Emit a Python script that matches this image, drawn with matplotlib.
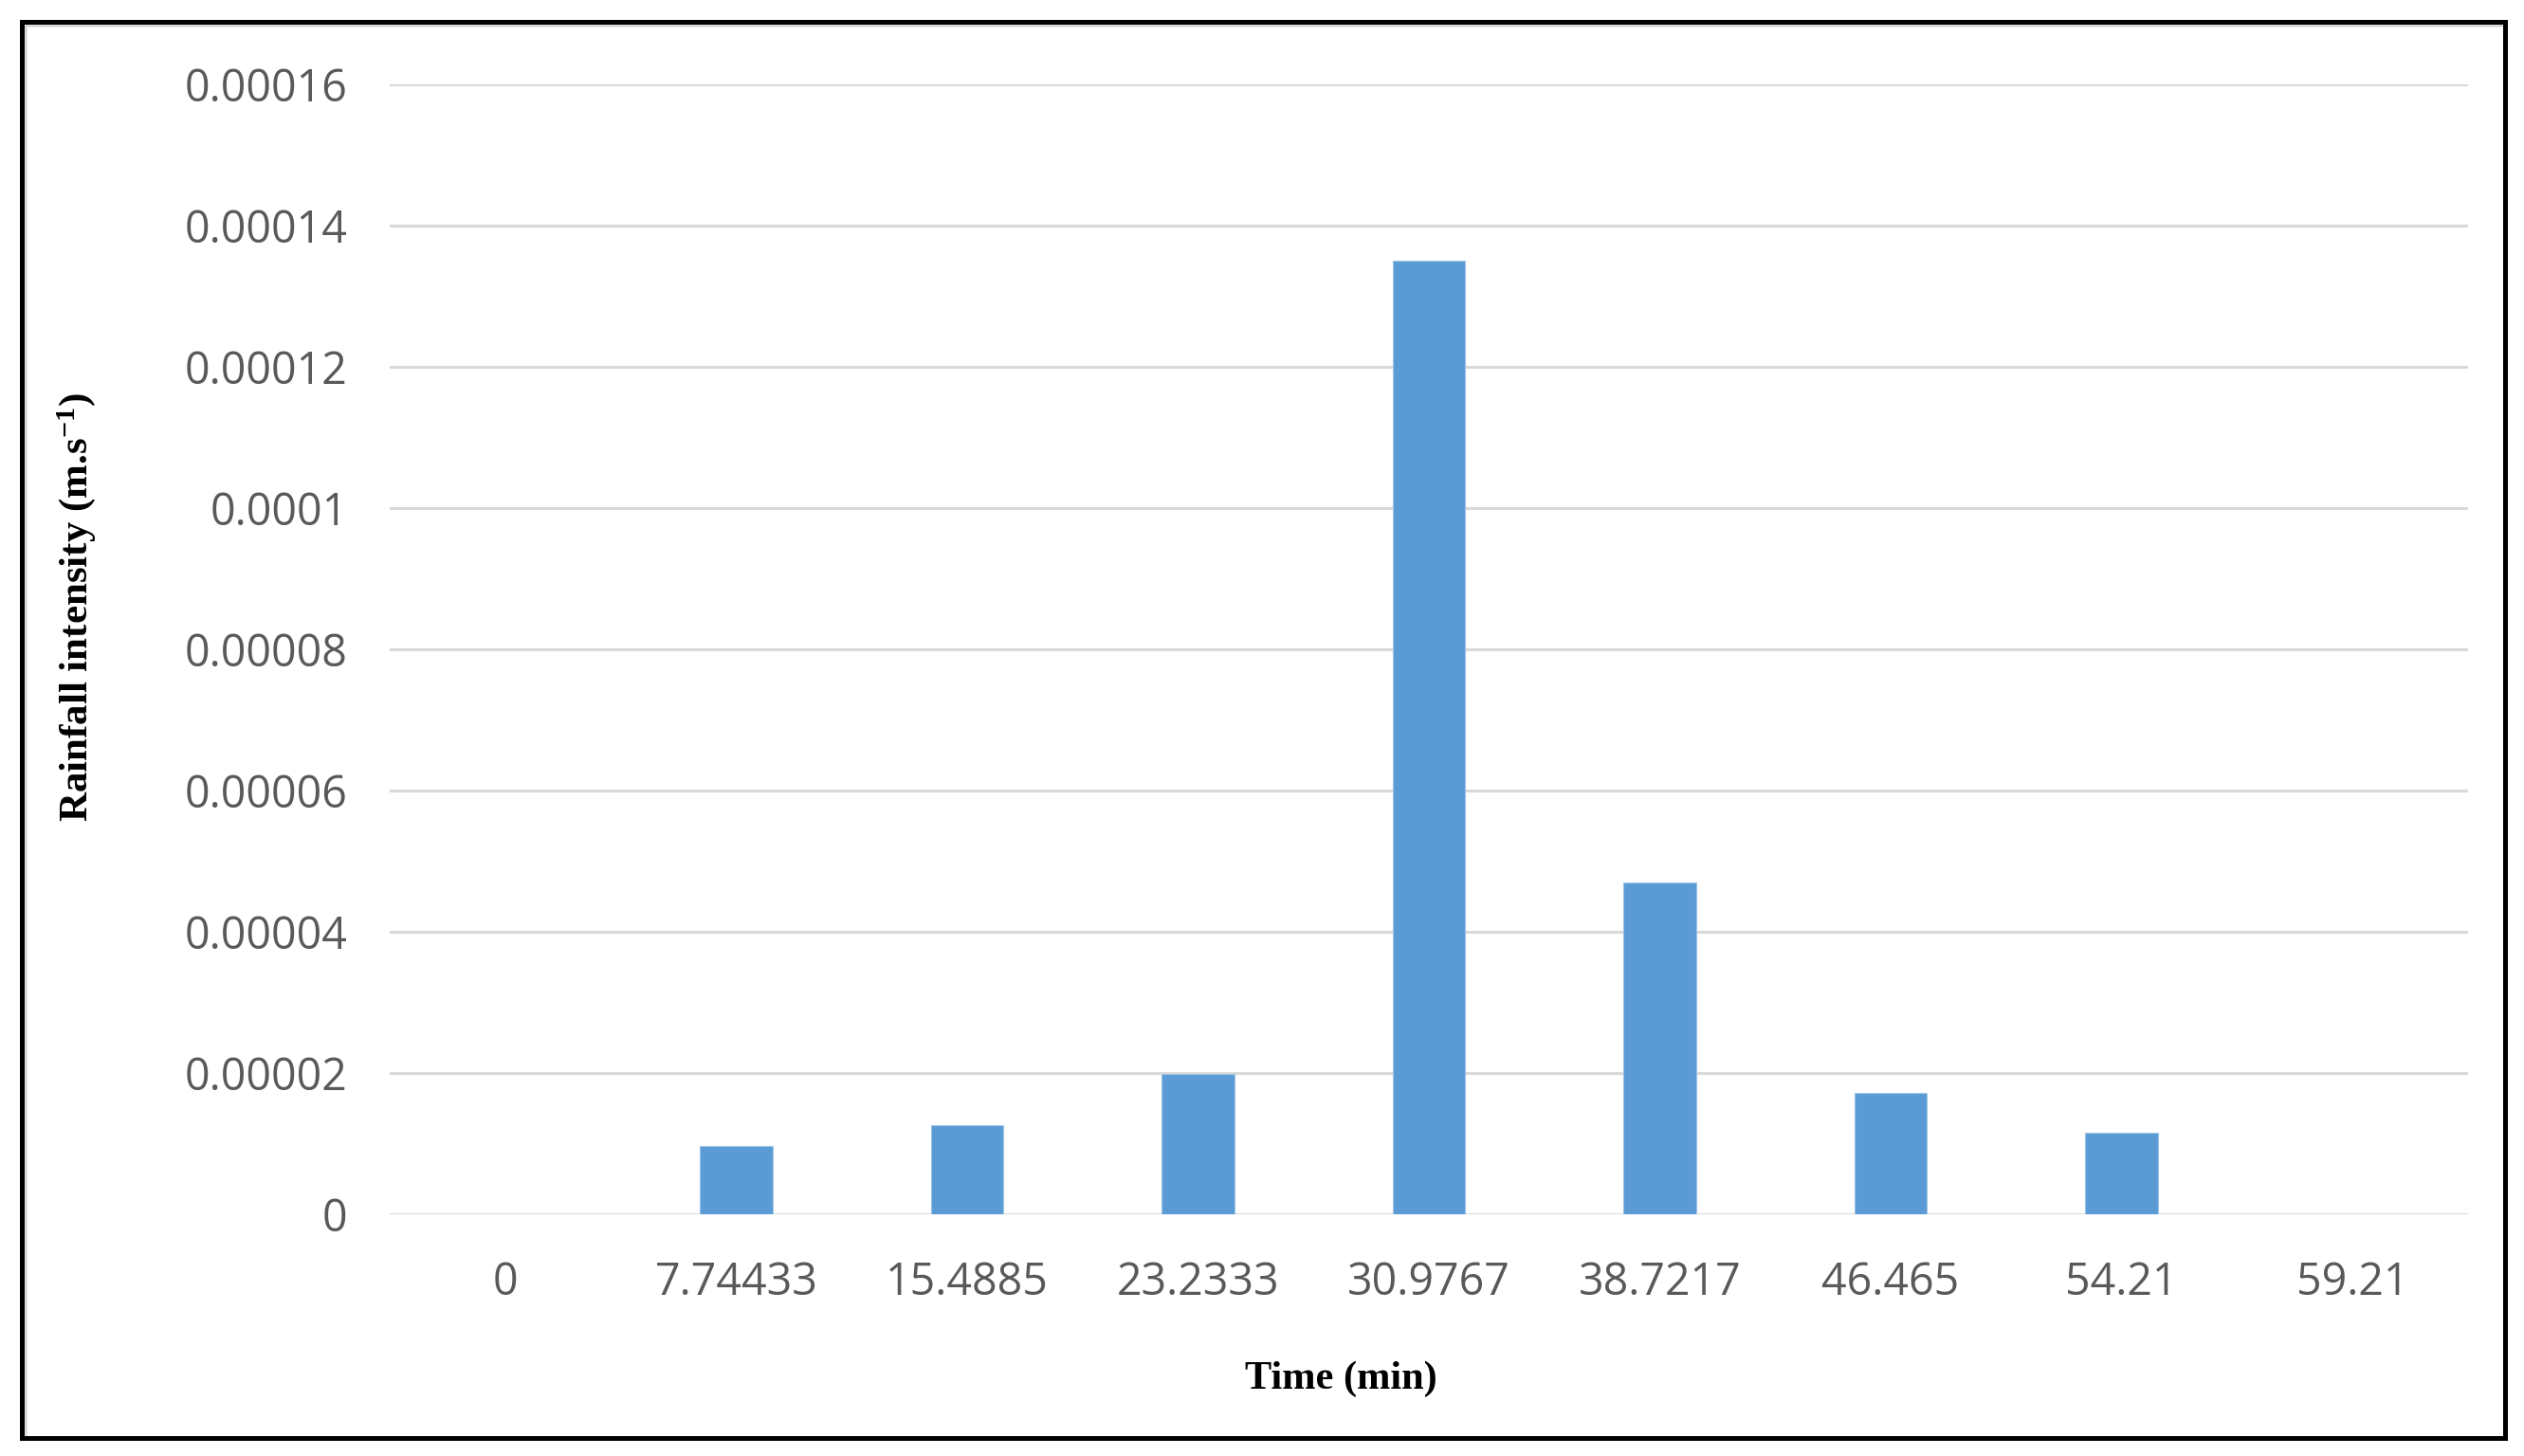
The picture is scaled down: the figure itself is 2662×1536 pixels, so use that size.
import matplotlib
matplotlib.use("Agg")
import matplotlib.pyplot as plt
from matplotlib.lines import Line2D

# ---- data ----
time_labels = ["0", "7.74433", "15.4885", "23.2333", "30.9767",
               "38.7217", "46.465", "54.21", "59.21"]
intensity = [0.0, 0.0000097, 0.0000126, 0.0000198, 0.000135,
             0.0000470, 0.0000172, 0.0000115, 0.0]
y_ticks = [0, 0.00002, 0.00004, 0.00006, 0.00008, 0.0001,
           0.00012, 0.00014, 0.00016]
y_tick_labels = ["0", "0.00002", "0.00004", "0.00006", "0.00008",
                 "0.0001", "0.00012", "0.00014", "0.00016"]

W, H = 2662, 1536
DPI = 100
plt.rcParams['mathtext.default'] = 'regular'

fig = plt.figure(figsize=(W / DPI, H / DPI), dpi=DPI)
fig.patch.set_facecolor("white")

left, right = 411 / W, 2603 / W
bottom, top = 1 - 1281 / H, 1 - 89 / H
ax = fig.add_axes([left, bottom, right - left, top - bottom])

x = list(range(len(time_labels)))
ax.bar(x, intensity, width=0.315, color="#5B9BD5", edgecolor="#9DC3E6",
       linewidth=0.8, zorder=3)

ax.set_xlim(-0.5, len(time_labels) - 0.5)
ax.set_ylim(0, 0.00016)
ax.set_yticks(y_ticks)
ax.set_yticklabels(y_tick_labels)
ax.set_xticks(x)
ax.set_xticklabels(time_labels)

tick_font = dict(family="Open Sans", size=33.5, color="#595959")
for lab in ax.get_yticklabels() + ax.get_xticklabels():
    lab.set_fontfamily(tick_font["family"])
    lab.set_fontsize(tick_font["size"])
    lab.set_color(tick_font["color"])

ax.tick_params(axis="y", length=0, pad=32)
ax.tick_params(axis="x", length=0, pad=35)
ax.grid(axis="y", color="#D9D9D9", linewidth=2.2, zorder=0)
ax.set_axisbelow(True)
for s in ax.spines.values():
    s.set_visible(False)

# axis titles
fig.text(1414 / W, 1 - 1455 / H, "Time (min)", ha="center", va="center",
         fontfamily="Liberation Serif", fontweight="bold", fontsize=30.5,
         color="black")
fig.text(81 / W, 1 - 641 / H, r"Rainfall intensity (m.s$^{-1}$)",
         ha="center", va="center", rotation=90,
         fontfamily="Liberation Serif", fontweight="bold", fontsize=31,
         color="black")

# outer frame: gray inner shadow (top/left) and black border
def px(xp, yp):
    return xp / W, 1 - yp / H

gray_lw = 3.5 * 72 / DPI
x0, y0 = px(27, 27)
x1, y1 = px(2638, 1514)
fig.add_artist(Line2D([x0, x1], [y0, y0], color="#D9D9D9", lw=gray_lw,
                      transform=fig.transFigure))
fig.add_artist(Line2D([x0, x0], [y0, y1], color="#D9D9D9", lw=gray_lw,
                      transform=fig.transFigure))

blk_lw = 5 * 72 / DPI
bx0, by0 = px(22.5, 22.5)
bx1, by1 = px(2641.5, 1516.5)
fig.add_artist(Line2D([bx0, bx1, bx1, bx0, bx0], [by0, by0, by1, by1, by0],
                      color="black", lw=blk_lw, solid_joinstyle="miter",
                      transform=fig.transFigure))

fig.savefig("out.png", dpi=DPI)
